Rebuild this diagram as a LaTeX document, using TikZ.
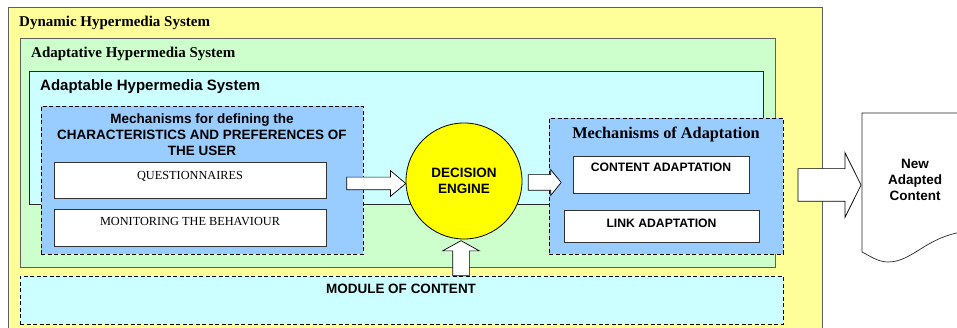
\documentclass[tikz,border=0pt]{standalone}
\usepackage{fontspec}
\setmainfont{Liberation Serif}
\setsansfont{Liberation Sans}
\usetikzlibrary{shapes.geometric, shapes.arrows, arrows.meta, positioning, calc}
\definecolor{sysgray}{RGB}{95,95,95}
\definecolor{sysyellow}{RGB}{255,255,153}
\definecolor{sysgreen}{RGB}{204,255,204}
\definecolor{syscyan}{RGB}{204,255,255}
\definecolor{sysblue}{RGB}{153,204,255}
\definecolor{engyellow}{RGB}{255,255,0}
\tikzset{
  framebox/.style={rectangle, draw=sysgray, line width=0.9pt, inner sep=0pt, anchor=north west},
  dashbox/.style={rectangle, draw=black, line width=0.8pt, dash pattern=on 4pt off 2.5pt,
    inner sep=0pt, anchor=north west},
  itembox/.style={rectangle, draw=black!80, fill=white, line width=0.8pt, inner sep=0pt},
  serifitem/.style={itembox, font=\rmfamily\fontsize{12.3}{14}\selectfont},
  sansitem/.style={itembox, font=\sffamily\bfseries\fontsize{12.2}{14}\selectfont},
  frametitle/.style={anchor=base west, inner sep=0pt, font=\rmfamily\bfseries\fontsize{15}{17}\selectfont},
  sanstitle/.style={inner sep=0pt, align=center, font=\sffamily\bfseries\fontsize{13.5}{16}\selectfont},
  engine/.style={circle, draw=black, fill=engyellow, line width=0.8pt, minimum size=116pt,
    inner sep=0pt, align=center, font=\sffamily\bfseries\fontsize{13.5}{16}\selectfont},
  fatarrow/.style={single arrow, draw=black, fill=white, line width=0.7pt, inner xsep=0pt}
}

\begin{document}
\begin{tikzpicture}[x=1pt, y=-1pt]
  \useasboundingbox (0,0) rectangle (957,328);
  \clip (0,0) rectangle (957,328);
  % nested systems
  \node[framebox, fill=sysyellow, minimum width=814pt, minimum height=340pt] (dyn) at (8,7) {};
  \node[frametitle] (dyntitle) at (19,26.8) {Dynamic Hypermedia System};
  \node[framebox, fill=sysgreen, minimum width=755pt, minimum height=229pt] (adaptive) at (20,38) {};
  \node[frametitle] (adaptivetitle) at (31,57.7) {Adaptative Hypermedia System};
  \node[framebox, draw=black!85, fill=syscyan, minimum width=734pt, minimum height=133pt] (adaptable) at (29,71) {};
  \node[frametitle, font=\sffamily\bfseries\fontsize{15}{17}\selectfont] (adaptabletitle) at (40,91) {Adaptable Hypermedia System};

  % user characteristics
  \node[dashbox, fill=sysblue, minimum width=322pt, minimum height=148pt] (user) at (41,106) {};
  \node[sanstitle, anchor=north] (usertitle) at (202,114) {Mechanisms for defining the\\CHARACTERISTICS AND PREFERENCES OF\\THE USER};
  \node[serifitem, minimum width=272pt, text height=17.4pt, text depth=18.6pt] (quest) at (190,180) {QUESTIONNAIRES};
  \node[serifitem, minimum width=272pt, text height=17pt, text depth=20pt] (monit) at (190,227.5) {MONITORING THE BEHAVIOUR};

  % decision engine
  \node[engine] (decision) at (464,181) {DECISION\\ENGINE};

  % adaptation
  \node[dashbox, fill=sysblue, minimum width=234pt, minimum height=136pt] (adapt) at (549,118) {};
  \node[anchor=base, inner sep=0pt, font=\rmfamily\bfseries\fontsize{16.3}{18}\selectfont] (adapttitle) at (666,138.4) {Mechanisms of Adaptation};
  \node[sansitem, minimum width=176pt, text height=15.7pt, text depth=21.3pt] (content) at (661,174.5) {CONTENT ADAPTATION};
  \node[sansitem, minimum width=195pt, text height=17.1pt, text depth=14.9pt] (link) at (661.5,226) {LINK ADAPTATION};

  % module of content
  \node[dashbox, fill=syscyan, minimum width=763pt, minimum height=48pt] (module) at (20,276) {};
  \node[sanstitle, anchor=base] (moduletitle) at (401,294) {MODULE OF CONTENT};

  % block arrows
  \node[fatarrow, minimum height=59pt, inner ysep=6pt, single arrow head extend=6.5pt,
    single arrow tip angle=80] (arrowuser) at (372.5,183.5) {};
  \node[fatarrow, minimum height=33pt, inner ysep=7.5pt, single arrow head extend=5pt,
    single arrow tip angle=102] (arrowengine) at (541.5,182.5) {};
  \node[fatarrow, minimum height=35pt, inner xsep=8pt, inner ysep=0pt, single arrow head extend=10pt,
    single arrow tip angle=122, shape border rotate=90] (arrowmodule) at (461,260.5) {};
  \node[fatarrow, minimum height=63pt, inner ysep=16pt, single arrow head extend=16pt,
    single arrow tip angle=127] (arrowout) at (825.5,185) {};

  % output document
  \draw[black!85, fill=white, line width=0.7pt] (862,113) -- (962,113) -- (962,232)
    .. controls (925,238) and (912,262) .. (888,262)
    .. controls (878,262) and (870,256) .. (862,252) -- cycle;
  \node[sanstitle] (newcontent) at (915,180) {New\\Adapted\\Content};
\end{tikzpicture}
\end{document}
